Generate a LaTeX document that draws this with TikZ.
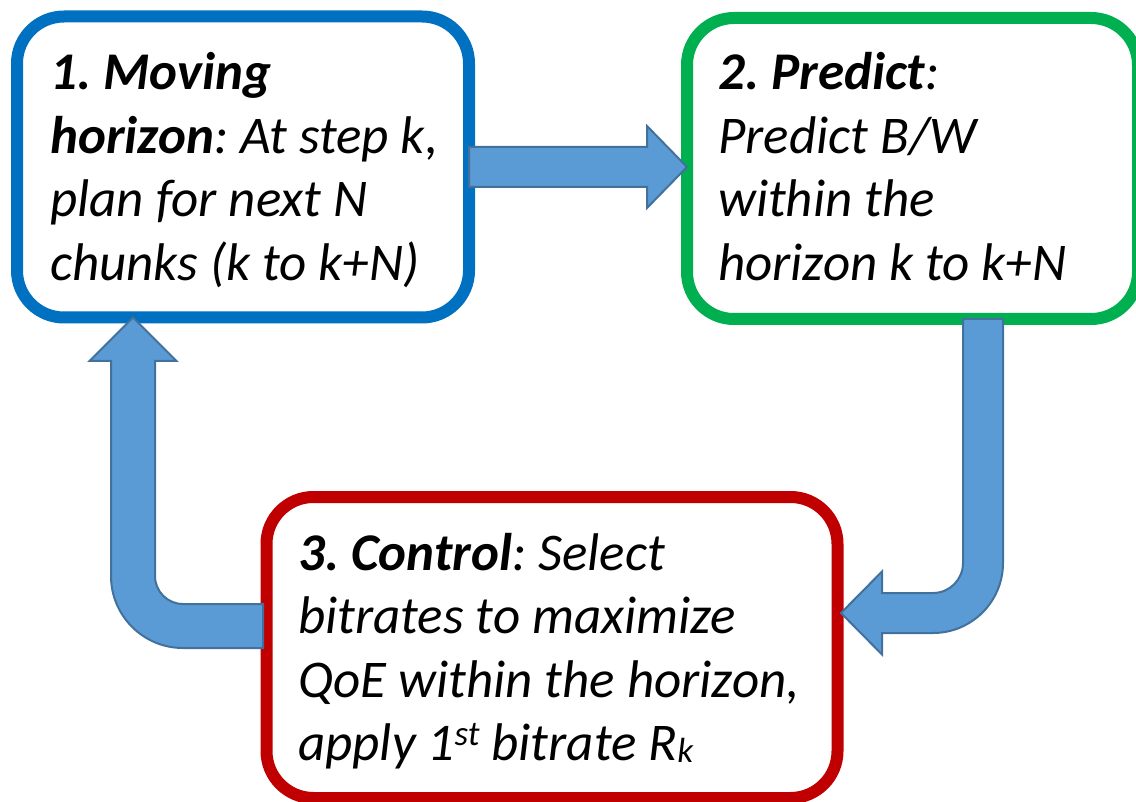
\documentclass[tikz,border=0pt]{standalone}
\usepackage{fontspec}
\setmainfont{Carlito}
\usetikzlibrary{calc}
\definecolor{boxblue}{HTML}{0070C0}
\definecolor{boxgreen}{HTML}{00B050}
\definecolor{boxred}{HTML}{C00000}
\definecolor{arrowfill}{HTML}{5B9BD5}
\definecolor{arrowline}{HTML}{41719C}
\newcommand{\supst}{\raisebox{15pt}{\fontsize{35}{35}\selectfont st}}
\newcommand{\subk}{\raisebox{-2pt}{\fontsize{35}{35}\selectfont k}}
\frenchspacing
\begin{document}
\begin{tikzpicture}[x=1pt,y=1pt,
  stage/.style={draw, line width=12pt, fill=white, rounded corners=47pt,
    inner sep=0pt, outer sep=0pt, minimum height=301pt},
  stagetext/.style={anchor=base west, inner sep=0pt,
    font=\fontsize{53}{63.5}\selectfont\itshape},
  blockarrow/.style={fill=arrowfill, draw=arrowline, line width=2pt, line join=miter}]
\useasboundingbox (0,0) rectangle (1136,-802);

% the three stages of the loop
\node[stage, draw=boxblue,  minimum width=452pt] (b1) at (243,-167) {};
\node[stage, draw=boxgreen, minimum width=451pt] (b2) at (912.5,-168.5) {};
\node[stage, draw=boxred,   minimum width=571pt] (b3) at (552,-647.5) {};

\node[stagetext] (t1) at (50,-90) {\parbox[t]{420pt}{\raggedright
  \textbf{1. Moving}\\\textbf{horizon}: At step k,\\plan for next N\\chunks (k to k+N)}};
\node[stagetext] (t2) at (718,-90) {\parbox[t]{420pt}{\raggedright
  \textbf{2. Predict}:\\Predict B/W\\within the\\horizon k to k+N}};
\node[stagetext] (t3) at (298,-570) {\parbox[t]{540pt}{\raggedright
  \textbf{3. Control}: Select\\bitrates to maximize\\QoE within the horizon,\\apply 1\supst{} bitrate R\subk}};

% connector end points
\coordinate (a2top)  at ($(b2.south)+(70.5,0)$);
\coordinate (a2tip)  at ($(b3.east)+(3.5,34.5)$);
\coordinate (a3tail) at ($(b3.west)+(-3.5,21.5)$);
\coordinate (a3tip)  at ($(b1.south)+(-110,0)$);

% step 1 -> step 2
\path[blockarrow] let \p1=(b1.east), \p2=(b2.west) in
  (\x1,\y1+20pt) -- (\x2-40pt,\y1+20pt) -- (\x2-40pt,\y1+41pt) -- (\x2,\y1)
  -- (\x2-40pt,\y1-41pt) -- (\x2-40pt,\y1-20pt) -- (\x1,\y1-20pt) -- cycle;

% step 2 -> step 3 (bent arrow)
\path[blockarrow] let \p1=(a2top), \p2=(a2tip) in
  (\x1-20pt,\y1) -- (\x1-20pt,\y2+50pt)
  arc[start angle=0, end angle=-90, radius=30pt]
  -- (\x2+41pt,\y2+20pt) -- (\x2+41pt,\y2+41.5pt) -- (\x2,\y2)
  -- (\x2+41pt,\y2-41.5pt) -- (\x2+41pt,\y2-20pt) -- (\x1-50pt,\y2-20pt)
  arc[start angle=-90, end angle=0, radius=70pt]
  -- (\x1+20pt,\y1) -- cycle;

% step 3 -> step 1 (bent arrow)
\path[blockarrow] let \p1=(a3tail), \p2=(a3tip) in
  (\x1,\y1+22pt) -- (\x2+50pt,\y1+22pt)
  arc[start angle=-90, end angle=-180, radius=28pt]
  -- (\x2+22pt,\y2-43.5pt) -- (\x2+43.5pt,\y2-43.5pt) -- (\x2,\y2)
  -- (\x2-43.5pt,\y2-43.5pt) -- (\x2-22pt,\y2-43.5pt) -- (\x2-22pt,\y1+50pt)
  arc[start angle=180, end angle=270, radius=72pt]
  -- (\x1,\y1-22pt) -- cycle;
\end{tikzpicture}
\end{document}
